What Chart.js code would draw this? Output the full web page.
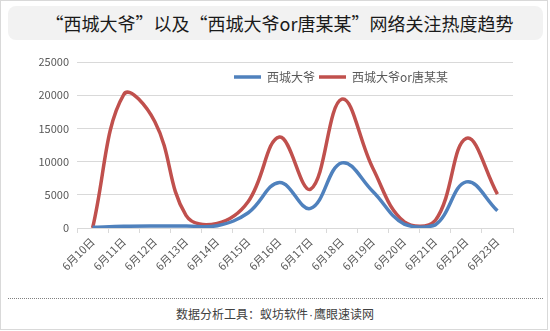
<!DOCTYPE html>
<html>
<head>
<meta charset="utf-8">
<script src="https://cdn.jsdelivr.net/npm/chart.js@4.4.1/dist/chart.umd.min.js"></script>
<style>
  html, body { margin:0; padding:0; background:#fff; }
  body { font-family:'Noto Sans CJK SC', 'Noto Sans', sans-serif; }
  .frame { position:absolute; left:0; top:0; width:548px; height:330px; box-sizing:border-box; border:1px solid #d9d9d9; background:#fff; }
  .title { position:absolute; left:7px; top:5px; width:535px; height:34px; background:#f2f2f2; border-radius:8px;
           font-size:18px; line-height:34px; color:#1a1a1a; text-align:center; padding-left:8px; box-sizing:border-box; }
  #chart { position:absolute; left:0; top:45px; }
  .sep { position:absolute; left:7px; top:297px; width:535px; border-top:1px dotted #808080; }
  .foot { position:absolute; left:0; top:303px; width:548px; text-align:center; font-size:12px; line-height:20px; color:#404040; }
  .dot { font-family:'Liberation Sans', sans-serif; margin:0 1px; }
</style>
</head>
<body>
<div class="frame">
  <div class="title">“西城大爷”以及“西城大爷or唐某某”网络关注热度趋势</div>
  <canvas id="chart" width="548" height="250"></canvas>
  <div class="sep"></div>
  <div class="foot">数据分析工具：蚁坊软件<span class="dot">·</span>鹰眼速读网</div>
</div>
<script>
// 日期与两条热度曲线
const days = ['6月10日','6月11日','6月12日','6月13日','6月14日','6月15日','6月16日',
              '6月17日','6月18日','6月19日','6月20日','6月21日','6月22日','6月23日'];
const uncle    = [100, 250, 300, 300, 350, 2300, 6850, 2950, 9800, 5500, 600, 450, 6950, 2600];
const uncleOr  = [0, 20100, 16000, 1900, 700, 4000, 13700, 5850, 19400, 9000, 950, 1100, 13500, 5100];
const yTicks   = [0, 5000, 10000, 15000, 20000, 25000];

const FONT = "'Noto Sans CJK SC', 'Noto Sans', sans-serif";
const INK  = '#595959';

// 图例只占 1px 高度，布局完成后挪进绘图区右上方
const legendShift = {
  id: 'legendShift',
  afterLayout(chart) {
    const lg = chart.legend;
    lg.left = 229; lg.right = 548;
    lg.top = 21;   lg.bottom = 51;
  }
};

new Chart(document.getElementById('chart').getContext('2d'), {
  type: 'line',
  data: {
    labels: days,
    datasets: [
      { label:'西城大爷',         data: uncle,   borderColor:'#4f81bd', backgroundColor:'#4f81bd', borderWidth:3.5, pointRadius:0, tension:0.4 },
      { label:'西城大爷or唐某某', data: uncleOr, borderColor:'#c0504d', backgroundColor:'#c0504d', borderWidth:3.5, pointRadius:0, tension:0.4 },
    ],
  },
  options: {
    responsive: false,
    animation: false,
    layout: { padding: { left:0, right:36, top:15, bottom:0 } },
    plugins: {
      tooltip: { enabled:false },
      legend: {
        position: 'top',
        align: 'start',
        maxHeight: 1,
        labels: { usePointStyle:true, pointStyle:'line', pointStyleWidth:27, boxHeight:12, padding:4,
                  color: INK, font: { family: FONT, size: 12 } },
      },
    },
    scales: {
      x: {
        offset: true,
        grid: { display:true, offset:true, drawOnChartArea:false, drawTicks:true, tickLength:5, color:'#d9d9d9' },
        border: { display:true, color:'#d9d9d9' },
        ticks: { minRotation:45, maxRotation:45, color: INK, font: { family: FONT, size: 11 }, padding: 2 },
        afterFit: s => { s.height = 250 - 182; },
      },
      y: {
        min: yTicks[0], max: yTicks[yTicks.length - 1],
        afterBuildTicks: s => { s.ticks = yTicks.map(v => ({ value: v })); },
        grid: { color:'#d9d9d9', drawTicks:false },
        border: { display:false },
        ticks: { color: INK, padding: 8, font: { family: FONT, size: 11 }, callback: v => String(v) },
        afterFit: s => { s.width = 76; },
      },
    },
  },
  plugins: [legendShift],
});
</script>
</body>
</html>
